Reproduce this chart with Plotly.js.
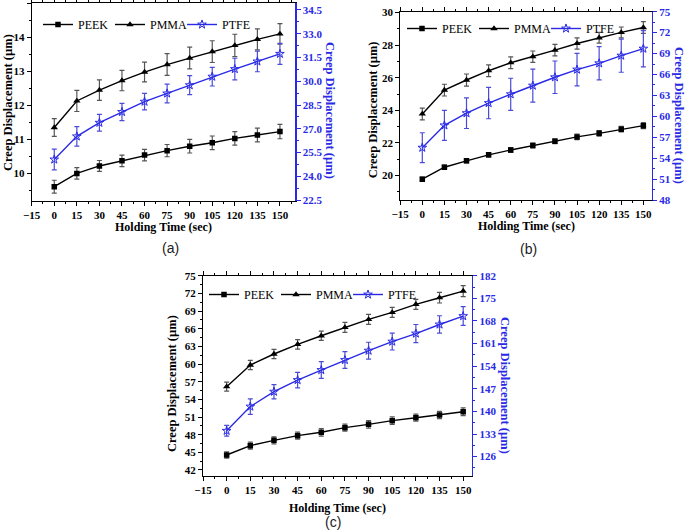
<!DOCTYPE html>
<html>
<head>
<meta charset="utf-8">
<script src="https://cdn.plot.ly/plotly-3.0.1.min.js"></script>
<style>html,body{margin:0;padding:0;background:#fff}#chart{width:685px;height:530px}</style>
</head>
<body>
<div id="chart"></div>
<script>
// ---- data ----
const time = [0, 15, 30, 45, 60, 75, 90, 105, 120, 135, 150];
const seriesNames = ["PEEK", "PMMA", "PTFE"];

const aPeek = [9.61, 10.0, 10.22, 10.37, 10.54, 10.67, 10.80, 10.90, 11.03, 11.13, 11.23];
const aPeekErr = [0.19, 0.17, 0.16, 0.17, 0.17, 0.18, 0.2, 0.2, 0.2, 0.2, 0.21];
const aPmma = [11.35, 12.13, 12.45, 12.73, 12.98, 13.2, 13.39, 13.58, 13.76, 13.94, 14.1];
const aPmmaErr = [0.26, 0.31, 0.3, 0.3, 0.29, 0.32, 0.32, 0.32, 0.33, 0.31, 0.3];
const aPtfe = [25.06, 26.52, 27.38, 28.06, 28.71, 29.23, 29.75, 30.29, 30.77, 31.25, 31.73];
const aPtfeErr = [0.66, 0.62, 0.53, 0.54, 0.52, 0.59, 0.6, 0.59, 0.68, 0.65, 0.66];

const bPeek = [19.78, 20.51, 20.9, 21.27, 21.57, 21.84, 22.1, 22.37, 22.59, 22.84, 23.06];
const bPeekErr = [0.13, 0.13, 0.13, 0.14, 0.15, 0.15, 0.15, 0.17, 0.17, 0.17, 0.18];
const bPmma = [23.78, 25.24, 25.86, 26.43, 26.92, 27.29, 27.69, 28.1, 28.45, 28.78, 29.08];
const bPmmaErr = [0.36, 0.36, 0.37, 0.36, 0.36, 0.35, 0.35, 0.34, 0.33, 0.33, 0.36];
const bPtfe = [55.5, 58.7, 60.45, 61.9, 63.16, 64.4, 65.6, 66.7, 67.6, 68.7, 69.7];
const bPtfeErr = [2.14, 2.14, 2.2, 2.25, 2.3, 2.38, 2.33, 2.33, 2.38, 2.38, 2.6];

const cPeek = [44.55, 46.13, 47.04, 47.83, 48.4, 49.19, 49.75, 50.38, 50.88, 51.34, 51.9];
const cPeekErr = [0.55, 0.6, 0.6, 0.6, 0.65, 0.6, 0.65, 0.65, 0.6, 0.6, 0.65];
const cPmma = [56.15, 59.83, 61.7, 63.34, 64.8, 66.22, 67.58, 68.77, 70.13, 71.26, 72.39];
const cPmmaErr = [0.76, 0.8, 0.8, 0.8, 0.8, 0.85, 0.85, 0.85, 0.85, 0.9, 0.93];
const cPtfe = [134.0, 141.5, 146.1, 149.7, 152.8, 155.9, 158.8, 161.6, 164.1, 166.9, 169.5];
const cPtfeErr = [1.65, 2.4, 2.2, 2.4, 2.6, 2.6, 2.6, 2.6, 2.8, 2.7, 2.9];

const xTitle = "Holding Time (sec)";
const yTitle = "Creep Displacement (µm)";
const captions = ["(a)", "(b)", "(c)"];

// ---- style ----
const BLACK = "#000000";
const BLUE = "#2a2ae6";
const SERIF = "Liberation Serif, Times New Roman, serif";

function mk(name, x, y, err, xa, ya, leg, kind) {
  const isBlue = kind === "PTFE";
  const sym = kind === "PEEK" ? "square" : kind === "PMMA" ? "triangle-up" : "star-open";
  const sz = kind === "PEEK" ? 5.5 : kind === "PMMA" ? 6.5 : 6.5;
  return {
    type: "scatter", mode: "lines+markers", name: name, x: x, y: y,
    xaxis: xa, yaxis: ya, legend: leg,
    line: {color: isBlue ? BLUE : BLACK, width: 1.4},
    marker: {symbol: sym, size: sz, color: isBlue ? BLUE : BLACK,
             line: {color: isBlue ? BLUE : BLACK, width: isBlue ? 1 : 0}},
    error_y: {type: "data", array: err, visible: true, color: isBlue ? "#4b4bd8" : "#555555", thickness: 1.2, width: 2.5}
  };
}

const traces = [
  mk(seriesNames[0], time, aPeek, aPeekErr, "x", "y", "legend", "PEEK"),
  mk(seriesNames[1], time, aPmma, aPmmaErr, "x", "y", "legend", "PMMA"),
  mk(seriesNames[2], time, aPtfe, aPtfeErr, "x", "y2", "legend", "PTFE"),
  mk(seriesNames[0], time, bPeek, bPeekErr, "x2", "y3", "legend2", "PEEK"),
  mk(seriesNames[1], time, bPmma, bPmmaErr, "x2", "y3", "legend2", "PMMA"),
  mk(seriesNames[2], time, bPtfe, bPtfeErr, "x2", "y4", "legend2", "PTFE"),
  mk(seriesNames[0], time, cPeek, cPeekErr, "x3", "y5", "legend3", "PEEK"),
  mk(seriesNames[1], time, cPmma, cPmmaErr, "x3", "y5", "legend3", "PMMA"),
  mk(seriesNames[2], time, cPtfe, cPtfeErr, "x3", "y6", "legend3", "PTFE")
];

const W = 685, H = 530;
const px = v => v / W;
const py = v => 1 - v / H;

const tickFont = (c) => ({family: SERIF, size: 11, color: c, weight: "bold"});

function xax(domain, range, anchor) {
  return {domain: domain, range: range, anchor: anchor, tick0: 0, dtick: 15,
    ticks: "outside", ticklen: 4, tickwidth: 1, tickcolor: BLACK,
    minor: {dtick: 7.5, ticks: "outside", ticklen: 2, tickcolor: BLACK},
    showline: true, linecolor: BLACK, linewidth: 1, mirror: "ticks",
    showgrid: false, zeroline: false, tickfont: tickFont(BLACK)};
}
function yL(domain, range, dtick, anchor) {
  return {domain: domain, range: range, anchor: anchor, tick0: 0, dtick: dtick,
    ticks: "outside", ticklen: 4, tickwidth: 1, tickcolor: BLACK,
    minor: {dtick: dtick / 2, ticks: "outside", ticklen: 2, tickcolor: BLACK},
    showline: true, linecolor: BLACK, linewidth: 1,
    showgrid: false, zeroline: false, tickfont: tickFont(BLACK)};
}
function yR(range, dtick, tick0, anchor, over, fmt) {
  return {range: range, anchor: anchor, overlaying: over, side: "right", tick0: tick0, dtick: dtick,
    tickformat: fmt,
    ticks: "outside", ticklen: 4, tickwidth: 1, tickcolor: BLUE,
    minor: {dtick: dtick / 2, ticks: "outside", ticklen: 2, tickcolor: BLUE},
    showline: true, linecolor: BLUE, linewidth: 1.5,
    showgrid: false, zeroline: false, tickfont: tickFont(BLUE)};
}

const dA = {x: [px(31.7), px(295)], y: [py(201), py(3.3)]};
const dB = {x: [px(400.2), px(651.6)], y: [py(200), py(11.7)]};
const dC = {x: [px(203), px(471.7)], y: [py(475.7), py(275.7)]};

const legFont = {family: SERIF, size: 12, color: BLACK};
function leg(x, y) {
  return {x: px(x), y: py(y), xanchor: "left", yanchor: "top", orientation: "h",
    font: legFont, bgcolor: "rgba(0,0,0,0)", itemwidth: 30, entrywidth: 27, entrywidthmode: "pixels",
    tracegroupgap: 0};
}

function ann(text, x, y, angle, color, size, fam, bold) {
  return {text: text, x: px(x), y: py(y), xref: "paper", yref: "paper", showarrow: false,
    textangle: angle, xanchor: "center", yanchor: "middle",
    font: {family: fam, size: size, color: color, weight: bold ? "bold" : "normal"}};
}

const SANS = "Liberation Sans, Arial, sans-serif";
const annotations = [
  ann(xTitle, 163.4, 227, 0, BLACK, 12, SERIF, true),
  ann(yTitle, 8, 103, -90, BLACK, 12.5, SERIF, true),
  ann(yTitle, 330, 110, 90, BLUE, 12.5, SERIF, true),
  ann(xTitle, 526, 226.5, 0, BLACK, 12, SERIF, true),
  ann(yTitle, 373.3, 110, -90, BLACK, 12.5, SERIF, true),
  ann(yTitle, 679, 115, 90, BLUE, 12.5, SERIF, true),
  ann(xTitle, 337.4, 508, 0, BLACK, 12, SERIF, true),
  ann(yTitle, 172.7, 383.3, -90, BLACK, 12.5, SERIF, true),
  ann(yTitle, 505, 385, 90, BLUE, 12.5, SERIF, true),
  ann(captions[0], 170, 248, 0, "#222222", 14, SANS, false),
  ann(captions[1], 528, 249, 0, "#222222", 14, SANS, false),
  ann(captions[2], 333, 521.5, 0, "#222222", 14, SANS, false)
];

const layout = {
  width: W, height: H, margin: {l: 0, r: 0, t: 0, b: 0},
  paper_bgcolor: "#ffffff", plot_bgcolor: "rgba(0,0,0,0)",
  showlegend: true,
  xaxis: xax(dA.x, [-15, 160], "y"),
  yaxis: yL(dA.y, [9.19, 15], 1, "x"),
  yaxis2: yR([22.44, 34.92], 1.5, 22.5, "x", "y", ".1f"),
  xaxis2: xax(dB.x, [-15, 155.6], "y3"),
  yaxis3: yL(dB.y, [18.5, 30.05], 2, "x2"),
  yaxis4: yR([48, 75], 3, 0, "x2", "y3", "d"),
  xaxis3: xax(dC.x, [-15, 155.4], "y5"),
  yaxis5: yL(dC.y, [41.03, 75], 3, "x3"),
  yaxis6: yR([120.1, 182], 7, 0, "x3", "y5", "d"),
  legend: leg(38, 10),
  legend2: leg(402, 14),
  legend3: leg(204, 280),
  annotations: annotations
};

Plotly.newPlot("chart", traces, layout, {staticPlot: true, displayModeBar: false});
</script>
</body>
</html>
